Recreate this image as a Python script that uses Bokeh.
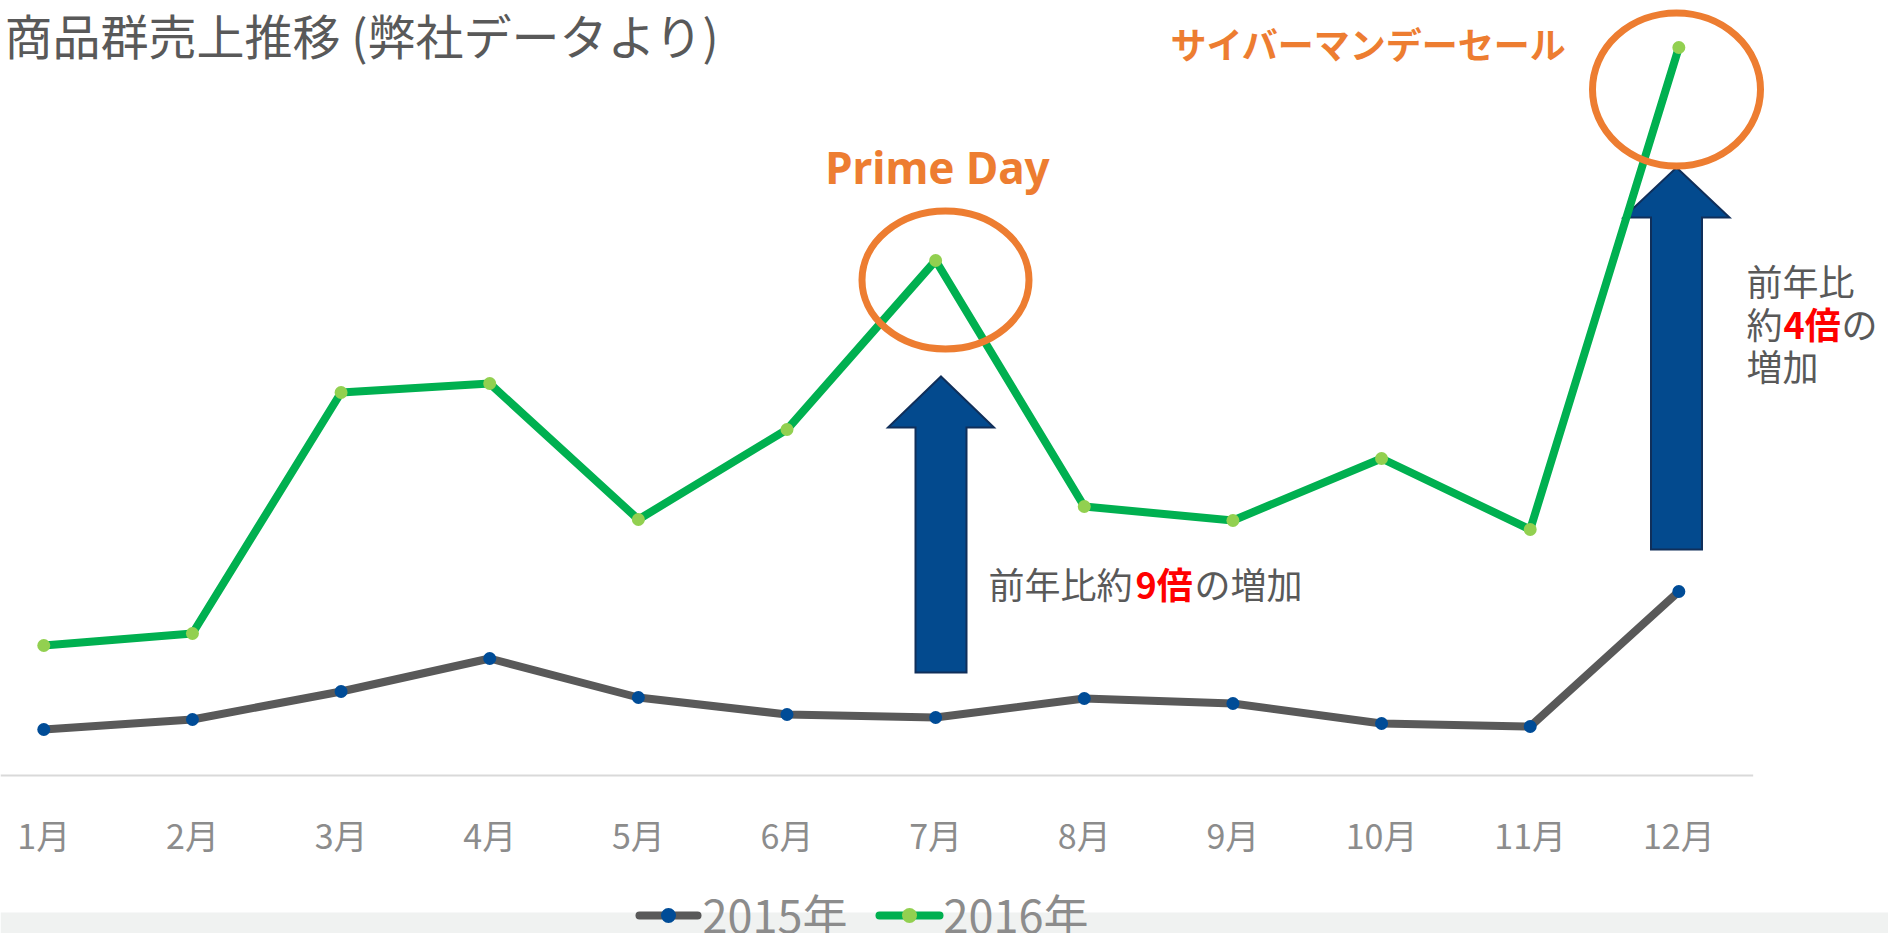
from bokeh.plotting import figure
from bokeh.models import Range1d, BoxAnnotation
from bokeh.core.properties import value
from bokeh.embed import file_html
from bokeh.resources import INLINE

# ---------------- data ----------------
months = ["1月", "2月", "3月", "4月", "5月", "6月", "7月", "8月", "9月", "10月", "11月", "12月"]
month_idx = list(range(1, 13))
sales_2015 = [46, 56, 84, 117, 78, 61, 58, 77, 72, 52, 49, 184]
sales_2016 = [130, 142, 383, 392, 256, 346, 515, 269, 255, 317, 246, 728]
series_labels = ["2015年", "2016年"]
title_text = "商品群売上推移 (弊社データより)"

# ---------------- layout ----------------
W, H = 1888, 933
ORIGIN = 0              # page offset of the figure
PPM = 148.64            # pixels per month
FIRST_PX = 43.3         # page x of 1月
BASE_PY = 775           # page y of value 0
XS = 1 - (FIRST_PX - ORIGIN) / PPM
XE = XS + W / PPM
YS = -(ORIGIN + H - BASE_PY)
YE = BASE_PY - ORIGIN


def X(px):
    return XS + (px - ORIGIN) / PPM


def Y(py):
    return BASE_PY - py


FONT = value("Noto Sans CJK JP")
GRAY_TXT = "#595959"
ORANGE = "#ed7d31"
RED = "#ff0000"
ARROW_FILL = "#034a8e"
ARROW_LINE = "#102f5a"

p = figure(width=W, height=H, output_backend="svg", toolbar_location=None,
           x_range=Range1d(XS, XE), y_range=Range1d(YS, YE),
           x_axis_type=None, y_axis_type=None, min_border=0,
           background_fill_color="white", border_fill_color="white")
p.outline_line_color = None
p.grid.visible = False

# bottom grey band
p.add_layout(BoxAnnotation(top=Y(912), fill_color="#f0f2f1", fill_alpha=1,
                           line_alpha=0, level="underlay"))

# baseline
p.segment(x0=[XS], x1=[12.5], y0=[0], y1=[0], line_color="#d9d9d9", line_width=2)

# month labels
p.text(x=month_idx, y=[Y(834)] * 12, text=months, text_font=FONT,
       text_font_size="34px", text_color="#8c8c8c", text_align="center",
       text_baseline="middle")

# arrows
def arrow(cx, tip, base, bottom, head_half=53, shaft_half=25.5):
    xs = [cx, cx + head_half, cx + shaft_half, cx + shaft_half,
          cx - shaft_half, cx - shaft_half, cx - head_half]
    ys = [tip, base, base, bottom, bottom, base, base]
    p.patch([X(v) for v in xs], [Y(v) for v in ys], fill_color=ARROW_FILL,
            line_color=ARROW_LINE, line_width=2, line_join="miter")

arrow(940.5, 376, 427, 672)
arrow(1676, 167, 217, 549)

# lines
p.line(month_idx, sales_2016, line_color="#00b050", line_width=8, line_join="round")
p.line(month_idx, sales_2015, line_color="#595959", line_width=8, line_join="round")
p.scatter(month_idx, sales_2016, size=13, fill_color="#92d050", line_color=None)
p.scatter(month_idx, sales_2015, size=13, fill_color="#004c97", line_color=None)

# ellipses
p.ellipse(x=[X(945)], y=[Y(279.5)], width=[167 / PPM], height=[138],
          fill_color=None, line_color=ORANGE, line_width=7)
p.ellipse(x=[X(1676)], y=[Y(89)], width=[168 / PPM], height=[153],
          fill_color=None, line_color=ORANGE, line_width=7)

# event labels
p.text(x=[X(937)], y=[Y(166)], text=["Prime Day"], text_font=value("Noto Sans"),
       text_font_style="bold", text_font_size="44px", text_color=ORANGE,
       text_align="center", text_baseline="alphabetic")
p.text(x=[X(1170)], y=[Y(42)], text=["サイバーマンデーセール"], text_font=FONT,
       text_font_style="bold", text_font_size="36px", text_color=ORANGE,
       text_align="left", text_baseline="middle")

# title
p.text(x=[X(4)], y=[Y(33)], text=[title_text], text_font=FONT,
       text_font_size="48px", text_color=GRAY_TXT, text_align="left",
       text_baseline="middle")


def txt(px, py, s, color=GRAY_TXT, bold=False, size="36px"):
    p.text(x=[X(px)], y=[Y(py)], text=[s], text_font=FONT,
           text_font_style="bold" if bold else "normal", text_font_size=size,
           text_color=color, text_align="left", text_baseline="middle")

# 9x annotation
txt(988, 582, "前年比約")
txt(1135, 582, "9倍", RED, True)
txt(1194, 582, "の増加")

# 4x annotation
txt(1746, 279, "前年比")
txt(1746, 322, "約")
txt(1783, 322, "4倍", RED, True)
txt(1841, 322, "の")
txt(1746, 364, "増加")

# legend
LEG_Y = 915
p.segment(x0=[X(639)], x1=[X(697)], y0=[Y(LEG_Y)], y1=[Y(LEG_Y)],
          line_color="#595959", line_width=8, line_cap="round")
p.scatter([X(668)], [Y(LEG_Y)], size=15, fill_color="#004c97", line_color=None)
p.segment(x0=[X(879)], x1=[X(939)], y0=[Y(LEG_Y)], y1=[Y(LEG_Y)],
          line_color="#00b050", line_width=8, line_cap="round")
p.scatter([X(909)], [Y(LEG_Y)], size=15, fill_color="#92d050", line_color=None)
p.text(x=[X(702), X(943)], y=[Y(913), Y(913)], text=series_labels, text_font=FONT,
       text_font_size="45px", text_color="#8c8c8c", text_align="left",
       text_baseline="middle")

open("out.html", "w").write(file_html(p, INLINE))
